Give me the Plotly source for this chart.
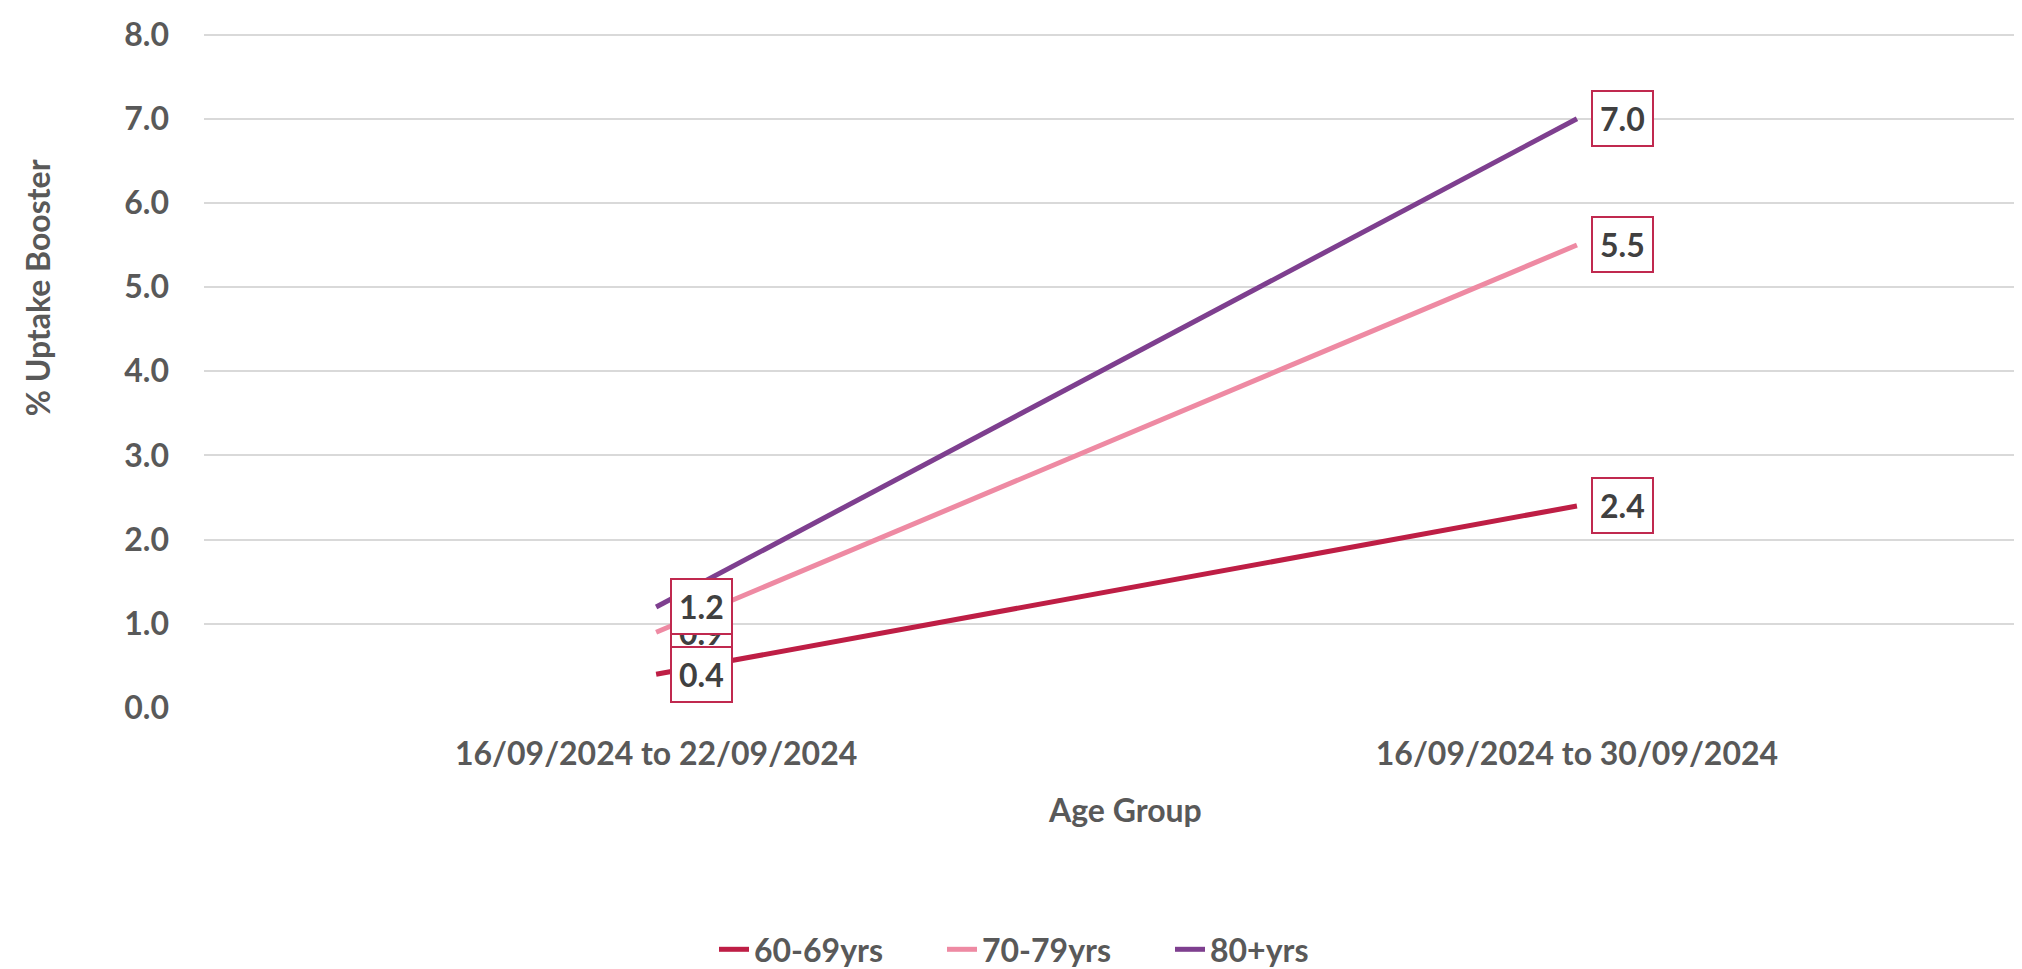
import plotly.graph_objects as go

categories = ["16/09/2024 to 22/09/2024", "16/09/2024 to 30/09/2024"]
series_names = ["60-69yrs", "70-79yrs", "80+yrs"]
values_60_69 = [0.4, 2.4]
values_70_79 = [0.9, 5.5]
values_80_plus = [1.2, 7.0]
y_ticks = [0, 1, 2, 3, 4, 5, 6, 7, 8]

colors = ["#BE1E45", "#EE8AA3", "#7E3F8F"]
all_values = [values_60_69, values_70_79, values_80_plus]

FONT = "Lato"
FS = 32
W, H = 2022, 969
L, R, T, B = 196, 0, 24, 262

fig = go.Figure()
for name, vals, col in zip(series_names, all_values, colors):
    fig.add_trace(go.Scatter(
        x=categories, y=vals, mode="lines", name=name,
        line=dict(color=col, width=5),
    ))

# data labels (order so that the middle series sits underneath)
annotations = []
order = [1, 0, 2]
for i in order:
    vals = all_values[i]
    for c, v in zip(categories, vals):
        annotations.append(dict(
            x=c, y=v, xref="x", yref="y", text=f"{v:.1f}",
            showarrow=False, xanchor="left", yanchor="middle", xshift=14,
            font=dict(family=FONT, size=FS, color="#404040", weight="bold"),
            bgcolor="white", bordercolor="#C0294F", borderwidth=2, borderpad=7,
        ))

plot_h = H - T - B
plot_w = W - L - R
annotations.append(dict(
    text="Age Group", xref="paper", yref="paper",
    x=(1117 - L) / plot_w, y=(H - B - 810) / plot_h,
    showarrow=False, xanchor="center", yanchor="middle",
    font=dict(family=FONT, size=FS, color="#595959", weight="bold"),
))
annotations.append(dict(
    text="% Uptake Booster", xref="paper", yref="paper",
    x=(29 - L) / plot_w, y=(H - B - 283) / plot_h,
    showarrow=False, xanchor="center", yanchor="middle", textangle=-90,
    font=dict(family=FONT, size=FS, color="#595959", weight="bold"),
))

fig.update_layout(
    width=W, height=H,
    margin=dict(l=L, r=R, t=T, b=B, pad=0),
    plot_bgcolor="white", paper_bgcolor="white",
    showlegend=True,
    legend=dict(
        orientation="h", xanchor="center", yanchor="middle",
        x=(1048 - L) / plot_w, y=(H - B - 951) / plot_h,
        font=dict(family=FONT, size=FS, color="#595959", weight="bold"),
        entrywidth=183, entrywidthmode="pixels",
        itemsizing="constant", tracegroupgap=0,
    ),
    annotations=annotations,
    xaxis=dict(
        type="category", range=[-0.491, 1.492],
        showgrid=False, zeroline=False, showline=False,
        tickfont=dict(family=FONT, size=FS, color="#595959", weight="bold"),
        ticklabelstandoff=24,
    ),
    yaxis=dict(
        range=[0, 8.03], tickvals=y_ticks, tickformat=".1f",
        showgrid=True, gridcolor="#D9D9D9", gridwidth=2,
        zeroline=False, showline=False,
        tickfont=dict(family=FONT, size=FS, color="#595959", weight="bold"),
        ticklabelstandoff=34,
    ),
)

fig.write_html("out.html")
